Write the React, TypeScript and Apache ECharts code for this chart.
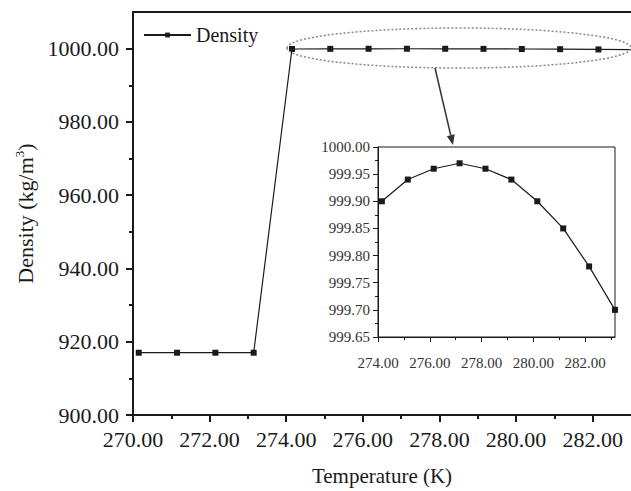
import React, { useEffect, useRef } from "react";
import * as echarts from "echarts";

const temperatures = [270.15, 271.15, 272.15, 273.15, 274.15, 275.15, 276.15, 277.15, 278.15, 279.15, 280.15, 281.15, 282.15, 283.15];
const densities = [917.0, 917.0, 917.0, 917.0, 999.9, 999.94, 999.96, 999.97, 999.96, 999.94, 999.9, 999.85, 999.78, 999.7];
const insetTemperatures = [274.15, 275.15, 276.15, 277.15, 278.15, 279.15, 280.15, 281.15, 282.15, 283.15];
const insetDensities = [999.9, 999.94, 999.96, 999.97, 999.96, 999.94, 999.9, 999.85, 999.78, 999.7];
const mainYTicks = [900, 920, 940, 960, 980, 1000];
const mainXTicks = [270, 272, 274, 276, 278, 280, 282];
const insetXTicks = [274, 276, 278, 280, 282];

const FONT = "'Liberation Serif', 'Times New Roman', serif";
const INK = "#1a1a1a";

export default function App() {
  const ref = useRef<HTMLDivElement>(null);
  useEffect(() => {
    if (!ref.current) return;
    const chart = echarts.init(ref.current, null, { renderer: "svg" });
    const mainData = temperatures.map((t, i) => [t, densities[i]]);
    const insetData = insetTemperatures.map((t, i) => [t, insetDensities[i]]);

    const tip = [453, 145];
    const start = [435, 68];
    const dx = tip[0] - start[0];
    const dy = tip[1] - start[1];
    const len = Math.sqrt(dx * dx + dy * dy);
    const ux = dx / len, uy = dy / len;
    const hl = 10, hw = 4;
    const bx = tip[0] - ux * hl, by = tip[1] - uy * hl;

    chart.setOption({
      animation: false,
      backgroundColor: "#fff",
      textStyle: { fontFamily: FONT, color: INK },
      legend: {
        left: 138,
        top: 20,
        itemWidth: 47,
        itemHeight: 6,
        textStyle: { fontFamily: FONT, fontSize: 20, color: INK },
        data: ["Density"],
      },
      grid: [
        { left: 133, right: 0, top: 12, bottom: 75, containLabel: false },
        {
          left: 378, right: 16, top: 147, bottom: 154, containLabel: false,
          show: true, backgroundColor: "#fff", borderColor: INK, borderWidth: 1, z: 5,
        },
      ],
      xAxis: [
        {
          type: "value", gridIndex: 0, min: 270, max: 283, interval: 2,
          name: "Temperature (K)", nameLocation: "middle", nameGap: 50,
          nameTextStyle: { fontFamily: FONT, fontSize: 21, color: INK },
          axisLine: { show: true, lineStyle: { color: INK, width: 2 } },
          axisTick: { show: true, length: 7, lineStyle: { color: INK, width: 2 }, customValues: mainXTicks },
          minorTick: { show: true, splitNumber: 2, length: 4, lineStyle: { color: INK, width: 2 } },
          axisLabel: {
            fontFamily: FONT, fontSize: 22, color: INK, margin: 13,
            customValues: mainXTicks,
            formatter: (v: number) => v.toFixed(2),
          },
          splitLine: { show: false },
        },
        {
          type: "value", gridIndex: 0, position: "top", min: 270, max: 283,
          axisLine: { show: true, lineStyle: { color: INK, width: 2 } },
          axisTick: { show: false }, axisLabel: { show: false }, splitLine: { show: false },
        },
        {
          type: "value", gridIndex: 1, min: 274, max: 283.15, interval: 2,
          axisLine: { show: true, lineStyle: { color: INK, width: 1 } },
          axisTick: { show: true, length: 5, lineStyle: { color: INK, width: 1 }, customValues: insetXTicks },
          minorTick: { show: true, splitNumber: 2, length: 3, lineStyle: { color: INK, width: 1 } },
          axisLabel: {
            fontFamily: FONT, fontSize: 15, color: "#333", margin: 18,
            customValues: insetXTicks,
            formatter: (v: number) => v.toFixed(2),
          },
          splitLine: { show: false },
          z: 6,
        },
      ],
      yAxis: [
        {
          type: "value", gridIndex: 0, min: 900, max: 1010, interval: 20,
          name: "{a|Density (kg/m}{s|3}{a|)}", nameLocation: "middle", nameGap: 93,
          nameTextStyle: {
            fontFamily: FONT, color: INK,
            rich: {
              a: { fontFamily: FONT, fontSize: 22, color: INK, lineHeight: 26 },
              s: { fontFamily: FONT, fontSize: 13, color: INK, lineHeight: 14, verticalAlign: "top" },
            },
          },
          axisLine: { show: true, lineStyle: { color: INK, width: 2 } },
          axisTick: { show: true, length: 7, lineStyle: { color: INK, width: 2 }, customValues: mainYTicks },
          minorTick: { show: true, splitNumber: 2, length: 4, lineStyle: { color: INK, width: 2 } },
          axisLabel: {
            fontFamily: FONT, fontSize: 22, color: INK, margin: 14,
            customValues: mainYTicks,
            formatter: (v: number) => v.toFixed(2),
          },
          splitLine: { show: false },
        },
        {
          type: "value", gridIndex: 1, min: 999.65, max: 1000, interval: 0.05,
          axisLine: { show: true, lineStyle: { color: INK, width: 1 } },
          axisTick: { show: true, length: 5, lineStyle: { color: INK, width: 1 } },
          minorTick: { show: true, splitNumber: 2, length: 3, lineStyle: { color: INK, width: 1 } },
          axisLabel: {
            fontFamily: FONT, fontSize: 15, color: "#333", margin: 8,
            formatter: (v: number) => v.toFixed(2),
          },
          splitLine: { show: false },
          z: 6,
        },
      ],
      series: [
        {
          name: "Density", type: "line", xAxisIndex: 0, yAxisIndex: 0,
          data: mainData, symbol: "rect", symbolSize: 6, clip: true,
          itemStyle: { color: INK }, lineStyle: { color: INK, width: 1.2 },
        },
        {
          name: "Inset", type: "line", xAxisIndex: 2, yAxisIndex: 1,
          data: insetData, symbol: "rect", symbolSize: 6, clip: false, z: 7,
          itemStyle: { color: INK }, lineStyle: { color: INK, width: 1.2 },
        },
      ],
      graphic: [
        {
          type: "ellipse", shape: { cx: 459, cy: 48, rx: 172, ry: 20 }, z: 10, silent: true,
          style: { fill: "none", stroke: "#888", lineWidth: 1.5, lineDash: [2, 2] },
        },
        {
          type: "line", shape: { x1: start[0], y1: start[1], x2: bx, y2: by }, z: 10, silent: true,
          style: { stroke: "#333", lineWidth: 1.5 },
        },
        {
          type: "polygon", z: 10, silent: true,
          shape: {
            points: [
              [tip[0], tip[1]],
              [bx - uy * hw, by + ux * hw],
              [bx + uy * hw, by - ux * hw],
            ],
          },
          style: { fill: "#333" },
        },
      ],
    });
    return () => chart.dispose();
  }, []);
  return <div ref={ref} style={{ position: "fixed", left: 0, top: 0, width: 631, height: 491 }} />;
}
